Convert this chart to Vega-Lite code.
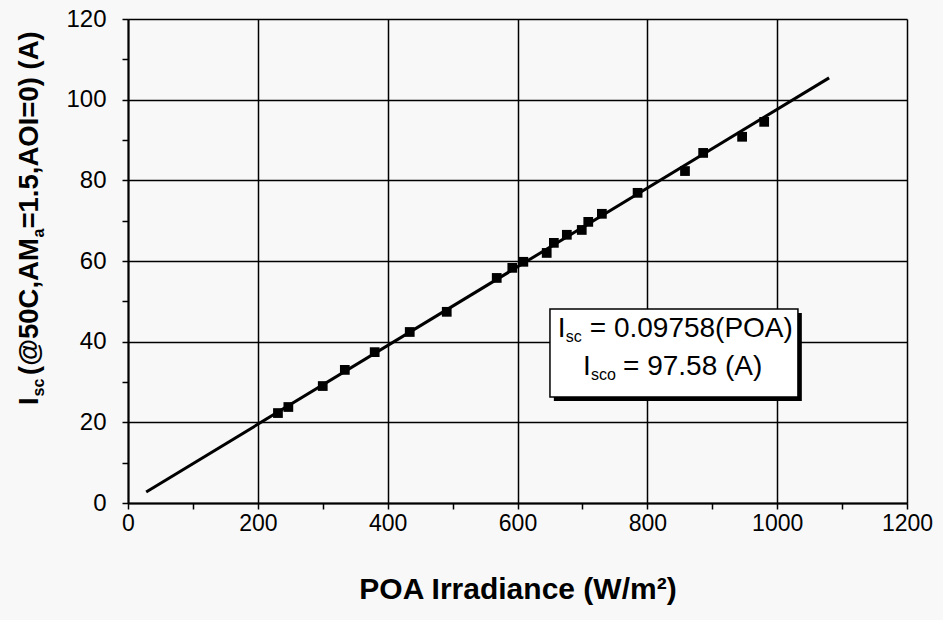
{
  "$schema": "https://vega.github.io/schema/vega-lite/v6.json",
  "width": 779,
  "height": 484,
  "autosize": {"type": "none"},
  "padding": {"left": 128, "top": 19, "right": 36, "bottom": 117},
  "background": "#f8f8f8",
  "config": {"view": {"stroke": null}, "font": "Liberation Sans"},
  "datasets": {
    "points": [
      {"poa": 231, "isc": 22.3}, {"poa": 247, "isc": 23.8}, {"poa": 300, "isc": 29.0},
      {"poa": 334, "isc": 33.0}, {"poa": 380, "isc": 37.4}, {"poa": 434, "isc": 42.4},
      {"poa": 491, "isc": 47.4}, {"poa": 568, "isc": 55.8}, {"poa": 592, "isc": 58.3},
      {"poa": 609, "isc": 59.8}, {"poa": 645, "isc": 62.0}, {"poa": 656, "isc": 64.5},
      {"poa": 676, "isc": 66.5}, {"poa": 699, "isc": 67.7}, {"poa": 709, "isc": 69.7},
      {"poa": 730, "isc": 71.7}, {"poa": 785, "isc": 76.9}, {"poa": 858, "isc": 82.3},
      {"poa": 886, "isc": 86.8}, {"poa": 946, "isc": 90.8}, {"poa": 980, "isc": 94.5}
    ],
    "fit": [{"poa": 28, "isc": 2.73}, {"poa": 1080, "isc": 105.4}]
  },
  "layer": [
    {
      "data": {"name": "fit"},
      "mark": {"type": "line", "color": "black", "strokeWidth": 3},
      "encoding": {
        "x": {
          "field": "poa", "type": "quantitative",
          "scale": {"domain": [0, 1200], "nice": false},
          "axis": {
            "title": "POA Irradiance (W/m²)",
            "values": [0, 100, 200, 300, 400, 500, 600, 700, 800, 900, 1000, 1100, 1200],
            "labelExpr": "datum.value % 200 == 0 ? datum.label : ''",
            "format": "d",
            "grid": true,
            "gridColor": "black",
            "gridWidth": 1.5,
            "gridOpacity": {"condition": {"test": "datum.value % 200 == 0", "value": 1}, "value": 0},
            "domainColor": "black", "domainWidth": 2,
            "tickColor": "black", "tickWidth": 1.5, "tickSize": 6,
            "labelFont": "Liberation Sans", "labelFontSize": 23, "labelColor": "black", "labelPadding": 3,
            "labelFlush": false, "labelOverlap": false,
            "titleFont": "Liberation Sans", "titleFontSize": 30, "titleFontWeight": "bold", "titleColor": "black",
            "titlePadding": 39
          }
        },
        "y": {
          "field": "isc", "type": "quantitative",
          "scale": {"domain": [0, 120], "nice": false},
          "axis": {
            "title": null,
            "values": [0, 10, 20, 30, 40, 50, 60, 70, 80, 90, 100, 110, 120],
            "labelExpr": "datum.value % 20 == 0 ? datum.label : ''",
            "grid": true,
            "gridColor": "black",
            "gridWidth": 1.5,
            "gridOpacity": {"condition": {"test": "datum.value % 20 == 0", "value": 1}, "value": 0},
            "domainColor": "black", "domainWidth": 2,
            "tickColor": "black", "tickWidth": 1.5, "tickSize": 6,
            "labelFont": "Liberation Sans", "labelFontSize": 24, "labelColor": "black", "labelPadding": 16,
            "labelFlush": false, "labelOverlap": false
          }
        }
      }
    },
    {
      "data": {"name": "points"},
      "mark": {"type": "point", "shape": "square", "filled": true, "color": "black", "size": 95, "opacity": 1},
      "encoding": {
        "x": {"field": "poa", "type": "quantitative"},
        "y": {"field": "isc", "type": "quantitative"}
      }
    },
    {
      "data": {"values": [{}]},
      "mark": {"type": "rect", "fill": "black"},
      "encoding": {
        "x": {"datum": 656, "type": "quantitative"}, "x2": {"datum": 1038},
        "y": {"datum": 47.1, "type": "quantitative"}, "y2": {"datum": 25.3}
      }
    },
    {
      "data": {"values": [{}]},
      "mark": {"type": "rect", "fill": "white", "stroke": "black", "strokeWidth": 1.5},
      "encoding": {
        "x": {"datum": 650, "type": "quantitative"}, "x2": {"datum": 1032},
        "y": {"datum": 48.1, "type": "quantitative"}, "y2": {"datum": 26.3}
      }
    },
    {
      "data": {"values": [{}]},
      "mark": {"type": "text", "text": "I", "fontSize": 28, "align": "left", "baseline": "alphabetic", "fill": "black", "dx": 0},
      "encoding": {"x": {"datum": 662, "type": "quantitative"}, "y": {"datum": 41.2, "type": "quantitative"}}
    },
    {
      "data": {"values": [{}]},
      "mark": {"type": "text", "text": "sc", "fontSize": 16, "align": "left", "baseline": "alphabetic", "fill": "black", "dx": 8, "dy": 5},
      "encoding": {"x": {"datum": 662, "type": "quantitative"}, "y": {"datum": 41.2, "type": "quantitative"}}
    },
    {
      "data": {"values": [{}]},
      "mark": {"type": "text", "text": "= 0.09758(POA)", "fontSize": 28, "align": "left", "baseline": "alphabetic", "fill": "black", "dx": 32},
      "encoding": {"x": {"datum": 662, "type": "quantitative"}, "y": {"datum": 41.2, "type": "quantitative"}}
    },
    {
      "data": {"values": [{}]},
      "mark": {"type": "text", "text": "I", "fontSize": 28, "align": "left", "baseline": "alphabetic", "fill": "black", "dx": 0},
      "encoding": {"x": {"datum": 701, "type": "quantitative"}, "y": {"datum": 31.8, "type": "quantitative"}}
    },
    {
      "data": {"values": [{}]},
      "mark": {"type": "text", "text": "sco", "fontSize": 16, "align": "left", "baseline": "alphabetic", "fill": "black", "dx": 8, "dy": 5},
      "encoding": {"x": {"datum": 701, "type": "quantitative"}, "y": {"datum": 31.8, "type": "quantitative"}}
    },
    {
      "data": {"values": [{}]},
      "mark": {"type": "text", "text": "= 97.58 (A)", "fontSize": 28, "align": "left", "baseline": "alphabetic", "fill": "black", "dx": 40},
      "encoding": {"x": {"datum": 701, "type": "quantitative"}, "y": {"datum": 31.8, "type": "quantitative"}}
    },
    {
      "data": {"values": [{}]},
      "mark": {"type": "text", "text": "I", "fontSize": 27.5, "fontWeight": "bold", "angle": 270, "align": "left", "baseline": "alphabetic", "fill": "black", "dx": 0},
      "encoding": {"x": {"datum": -138.6, "type": "quantitative"}, "y": {"datum": 24.3, "type": "quantitative"}}
    },
    {
      "data": {"values": [{}]},
      "mark": {"type": "text", "text": "sc", "fontSize": 16, "fontWeight": "bold", "angle": 270, "align": "left", "baseline": "alphabetic", "fill": "black", "dx": 8.5, "dy": 6},
      "encoding": {"x": {"datum": -138.6, "type": "quantitative"}, "y": {"datum": 24.3, "type": "quantitative"}}
    },
    {
      "data": {"values": [{}]},
      "mark": {"type": "text", "text": "(@50C,AM", "fontSize": 27.5, "fontWeight": "bold", "angle": 270, "align": "left", "baseline": "alphabetic", "fill": "black", "dx": 30},
      "encoding": {"x": {"datum": -138.6, "type": "quantitative"}, "y": {"datum": 24.3, "type": "quantitative"}}
    },
    {
      "data": {"values": [{}]},
      "mark": {"type": "text", "text": "a", "fontSize": 16, "fontWeight": "bold", "angle": 270, "align": "left", "baseline": "alphabetic", "fill": "black", "dx": 167.5, "dy": 6},
      "encoding": {"x": {"datum": -138.6, "type": "quantitative"}, "y": {"datum": 24.3, "type": "quantitative"}}
    },
    {
      "data": {"values": [{}]},
      "mark": {"type": "text", "text": "=1.5,AOI=0) (A)", "fontSize": 27.5, "fontWeight": "bold", "angle": 270, "align": "left", "baseline": "alphabetic", "fill": "black", "dx": 176.5},
      "encoding": {"x": {"datum": -138.6, "type": "quantitative"}, "y": {"datum": 24.3, "type": "quantitative"}}
    }
  ]
}
